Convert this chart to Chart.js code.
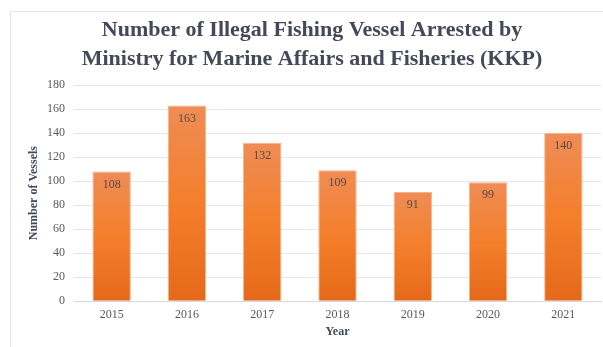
<!DOCTYPE html>
<html>
<head>
<meta charset="utf-8">
<script src="https://cdn.jsdelivr.net/npm/chart.js@4"></script>
<style>
  html, body { margin: 0; padding: 0; background: #fff; }
  #wrap { width: 603px; height: 347px; }
</style>
</head>
<body>
<div id="wrap"><canvas id="vesselChart" width="603" height="347"></canvas></div>
<script>
const years = ['2015', '2016', '2017', '2018', '2019', '2020', '2021'];
const vessels = [108, 163, 132, 109, 91, 99, 140];
const yTicks = [0, 20, 40, 60, 80, 100, 120, 140, 160, 180];

const serif = '"Liberation Serif", "Times New Roman", serif';

// Frame around the whole chart (like the Excel chart border)
const framePlugin = {
    id: 'frame',
    beforeDraw(chart) {
        const ctx = chart.ctx;
        ctx.save();
        ctx.fillStyle = '#ffffff';
        ctx.fillRect(0, 0, chart.width, chart.height);
        ctx.strokeStyle = '#e3e3e8';
        ctx.lineWidth = 1;
        ctx.strokeRect(10.5, 11.5, chart.width + 20, chart.height + 20);
        ctx.restore();
    }
};

// Value labels just inside the top of each bar
const valueLabels = {
    id: 'valueLabels',
    afterDatasetsDraw(chart) {
        const ctx = chart.ctx;
        const meta = chart.getDatasetMeta(0);
        ctx.save();
        ctx.font = '12px ' + serif;
        ctx.fillStyle = '#5a4a44';
        ctx.textAlign = 'center';
        ctx.textBaseline = 'middle';
        meta.data.forEach((bar, i) => {
            ctx.fillText(vessels[i], bar.x, bar.y + 13);
        });
        ctx.restore();
    }
};

function barGradient(context) {
    const chart = context.chart;
    if (!chart.chartArea || context.type !== 'data') return '#f47e2c';
    const y = chart.scales.y;
    const top = y.getPixelForValue(context.raw);
    const bottom = y.getPixelForValue(0);
    const g = chart.ctx.createLinearGradient(0, top, 0, bottom);
    g.addColorStop(0, '#ef8c56');
    g.addColorStop(0.5, '#f47f2b');
    g.addColorStop(1, '#e4691a');
    return g;
}

new Chart(document.getElementById('vesselChart'), {
    type: 'bar',
    data: {
        labels: years,
        datasets: [{
            label: 'Number of Vessels',
            data: vessels,
            backgroundColor: barGradient,
            borderColor: '#f6b48a',
            borderWidth: 1,
            barPercentage: 0.51,
            categoryPercentage: 1
        }]
    },
    options: {
        responsive: false,
        animation: false,
        layout: { padding: { left: 23, right: 2, top: 8, bottom: 8 } },
        plugins: {
            legend: { display: false },
            tooltip: { enabled: false },
            title: {
                display: true,
                text: ['Number of Illegal Fishing Vessel Arrested by',
                       'Ministry for Marine Affairs and Fisheries (KKP)'],
                color: '#44495a',
                font: { family: serif, size: 22, weight: 'bold', lineHeight: 1.32 },
                padding: { top: 8, bottom: 11 }
            }
        },
        scales: {
            x: {
                grid: { display: false, drawTicks: false },
                border: { color: '#d9d9e3' },
                ticks: { color: '#595959', font: { family: serif, size: 12 }, padding: 6 },
                title: {
                    display: true,
                    text: 'Year',
                    color: '#404a5a',
                    font: { family: serif, size: 12, weight: 'bold' },
                    padding: { top: -3, bottom: 0 }
                }
            },
            y: {
                min: 0,
                max: 180,
                afterBuildTicks(axis) {
                    axis.ticks = yTicks.map(v => ({ value: v }));
                },
                afterFit(axis) {
                    axis.width = 51;
                },
                grid: { color: '#e6e6ee', lineWidth: 1, drawTicks: false },
                border: { display: false },
                ticks: { color: '#595959', font: { family: serif, size: 12 }, padding: 9 },
                title: {
                    display: true,
                    text: 'Number of Vessels',
                    color: '#404a5a',
                    font: { family: serif, size: 12, weight: 'bold' },
                    padding: { top: 4, bottom: 6 }
                }
            }
        }
    },
    plugins: [framePlugin, valueLabels]
});
</script>
</body>
</html>
